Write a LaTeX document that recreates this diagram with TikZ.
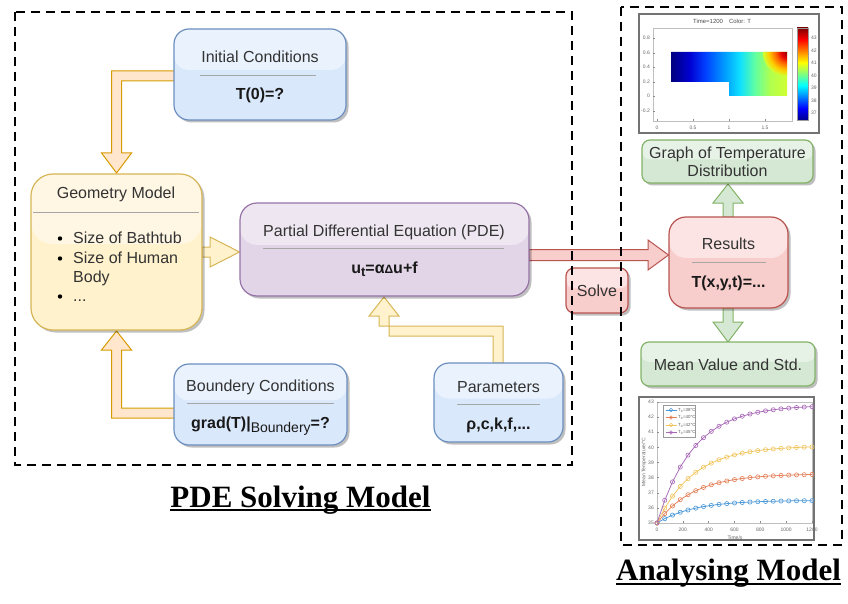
\documentclass[tikz,border=0pt]{standalone}
\usepackage{fontspec}
\setmainfont{Liberation Sans}
\newfontfamily\titlefont{Liberation Serif}
\usetikzlibrary{shadows,calc,plotmarks}
\definecolor{txt}{HTML}{333333}
\definecolor{blueF}{HTML}{DAE8FC}\definecolor{blueL}{HTML}{6C8EBF}
\definecolor{yelF}{HTML}{FFF2CC}\definecolor{yelL}{HTML}{D6B656}
\definecolor{purF}{HTML}{E1D5E7}\definecolor{purL}{HTML}{9673A6}
\definecolor{redF}{HTML}{F8CECC}\definecolor{redL}{HTML}{B85450}
\definecolor{grnF}{HTML}{D5E8D4}\definecolor{grnL}{HTML}{82B366}
\definecolor{orF}{HTML}{FFE6CC}\definecolor{orL}{HTML}{D79B00}
\definecolor{mA}{HTML}{4A98D8}\definecolor{mB}{HTML}{E38058}
\definecolor{mC}{HTML}{F2C55C}\definecolor{mD}{HTML}{A868B8}
\pgfdeclarehorizontalshading{jetx}{100bp}{rgb(0bp)=(0,0,0.5); rgb(25bp)=(0,0,0.5); rgb(33bp)=(0,0,0.82); rgb(39.7bp)=(0,0.25,1); rgb(48.3bp)=(0,0.62,1); rgb(54.7bp)=(0.06,0.88,1); rgb(61.2bp)=(0.38,1,0.63); rgb(67.7bp)=(0.69,1,0.31); rgb(75bp)=(0.82,1,0.19); rgb(100bp)=(0.82,1,0.19)}
\pgfdeclareradialshading{heat}{\pgfpoint{0bp}{0bp}}{rgb(0bp)=(0.55,0,0); rgb(6bp)=(0.9,0,0); rgb(12bp)=(1,0.4,0); rgb(19bp)=(1,0.8,0); rgb(25bp)=(0.82,1,0.19); rgb(50bp)=(0.82,1,0.19)}
\pgfdeclareverticalshading{jety}{100bp}{rgb(0bp)=(0,0,0.55); rgb(25bp)=(0,0,0.55); rgb(31.25bp)=(0,0,1); rgb(43.75bp)=(0,1,1); rgb(56.25bp)=(1,1,0); rgb(68.75bp)=(1,0,0); rgb(75bp)=(0.5,0,0); rgb(100bp)=(0.5,0,0)}
\tikzset{
  box/.style 2 args={fill=#1, draw=#2, line width=1.2pt, inner sep=0pt,
    drop shadow={shadow xshift=2.5pt, shadow yshift=-2.5pt, opacity=0.25, fill=black},
    path picture={\fill[white,opacity=0.45] (path picture bounding box.north west) rectangle ($(path picture bounding box.north east)!0.45!(path picture bounding box.south east)$);}},
  fat/.style 2 args={fill=#1, draw=#2, line width=1pt, line join=miter},
  ttl/.style={font=\fontsize{16}{18}\selectfont, text=txt, inner sep=0pt},
  val/.style={font=\bfseries\fontsize{16}{18}\selectfont, text=black!90, inner sep=0pt},
  sepline/.style={draw=black!35, line width=0.9pt},
  tk/.style={font=\fontsize{5}{6}\selectfont, text=black!60, inner sep=0pt},
  frame/.style={draw=black!55, line width=2.2pt, fill=white, inner sep=0pt},
  dashbox/.style={draw=black, line width=2.2pt, dash pattern=on 9pt off 6pt},
  bigtitle/.style={font=\titlefont\bfseries\fontsize{31}{36}\selectfont, inner sep=0pt}
}
\begin{document}
\begin{tikzpicture}[x=1pt,y=-1pt]
\useasboundingbox (0,0) rectangle (848,604);

% ---------- top plot ----------
\node[frame, minimum width=180pt, minimum height=119pt] (plotA) at (729,73.5) {};
\draw[black!25, line width=0.4pt] (653,28) rectangle (792,121);
\foreach \xv/\lab [count=\i] in {657/0,693/0.5,729/1,765/1.5}{
  \draw[black!45, line width=0.4pt] (\xv,121) -- (\xv,119);
  \node[tk] (ax\i) at (\xv,127.5) {\lab};}
\foreach \yv/\lab [count=\i] in {38/0.8,53/0.6,67/0.4,82/0.2,96/0,111/-0.2}{
  \draw[black!45, line width=0.4pt] (653,\yv) -- (655,\yv);
  \node[tk, anchor=east] (ay\i) at (650,\yv) {\lab};}
\node[font=\fontsize{6}{7}\selectfont, text=black!70, inner sep=0pt] (ttlA) at (722,21) {Time=1200\quad Color: T};
\begin{scope}
  \clip (671,52) -- (787,52) -- (787,96) -- (729,96) -- (729,82) -- (671,82) -- cycle;
  \shade[shading=jetx] (671,52) rectangle (787,96);
  \shade[shading=heat] (787,52) circle (24);
\end{scope}
\shade[shading=jety] (797,28) rectangle (808,120);
\draw[black!40, line width=0.4pt] (797,28) rectangle (808,120);
\foreach \v [count=\i] in {43,42,41,40,39,38,37}{
  \node[tk, anchor=west] (cb\i) at (811,{38+(43-\v)*12.5}) {\v};}

% ---------- bottom plot ----------
\node[frame, minimum width=175pt, minimum height=143pt] (plotB) at (726.5,468.5) {};
\draw[black!25, line width=0.4pt] (657,402) rectangle (812,523);
\foreach \t [count=\i] in {0,200,400,600,800,1000,1200}{
  \draw[black!45, line width=0.4pt] ({657+\t*0.129167},523) -- ({657+\t*0.129167},521);
  \node[tk] (bx\i) at ({657+\t*0.129167},530) {\t};}
\foreach \v [count=\i] in {35,36,37,38,39,40,41,42,43}{
  \draw[black!45, line width=0.4pt] (657,{523-15.125*(\v-35)}) -- (659,{523-15.125*(\v-35)});
  \node[tk, anchor=east] (by\i) at (654,{523-15.125*(\v-35)}) {\v};}
\node[tk] (xlab) at (735,537.5) {Time/s};
\node[tk, rotate=90] (ylab) at (644,462) {Mean Temperature/°C};
\foreach \A/\c in {1.5/mA,3.25/mB,5.1/mC,7.8/mD}{
  \draw[\c, line width=0.75pt, mark=o, mark size=2.1pt, mark options={solid, line width=0.6pt}]
    plot[domain=0:1200, samples=21] ({657+\x*0.129167},{523-15.125*\A*(1-exp(-\x/280))});}
\node[draw=black!40, line width=0.4pt, fill=white, minimum width=32pt, minimum height=32pt, inner sep=0pt] (leg) at (679,421) {};
\foreach \c/\lab [count=\i] in {mA/38,mB/40,mC/42,mD/45}{
  \draw[\c, line width=0.6pt] (665.5,{402.5+7.5*\i}) -- (676.5,{402.5+7.5*\i});
  \draw[\c, line width=0.6pt] (671,{402.5+7.5*\i}) circle (1.8);
  \node[font=\fontsize{4.4}{5}\selectfont, text=black!65, inner sep=0pt, anchor=west] (lg\i) at (678,{402.5+7.5*\i}) {T\textsubscript{0}=\lab°C};}

% ---------- block arrows ----------
\draw[fat={orF}{orL}] (175,71) -- (111.5,71) -- (111.5,153) -- (101.5,153) -- (116.5,173) -- (131.5,153) -- (121.5,153) -- (121.5,81) -- (175,81) -- cycle;
\draw[fat={orF}{orL}] (175,418) -- (111.5,418) -- (111.5,350) -- (101.5,350) -- (116.5,331) -- (131.5,350) -- (121.5,350) -- (121.5,408) -- (175,408) -- cycle;
\draw[fat={yelF}{yelL}] (202,247) -- (210,247) -- (210,237) -- (239.5,252) -- (210,267) -- (210,257) -- (202,257) -- cycle;
\draw[fat={yelF}{yelL}] (493,363) -- (493,336) -- (389,336) -- (389,316) -- (399,316) -- (384,297) -- (369,316) -- (379,316) -- (379,326) -- (503,326) -- (503,363) -- cycle;
\draw[fat={redF}{redL}] (529,249.5) -- (648,249.5) -- (648,240) -- (668.5,255) -- (648,270) -- (648,260.5) -- (529,260.5) -- cycle;
\draw[fat={grnF}{grnL}] (723,217) -- (723,203) -- (713,203) -- (728,184) -- (743,203) -- (733,203) -- (733,217) -- cycle;
\draw[fat={grnF}{grnL}] (723,308) -- (723,322) -- (713,322) -- (728,342) -- (743,322) -- (733,322) -- (733,308) -- cycle;

% ---------- boxes ----------
\node[box={blueF}{blueL}, minimum width=172pt, minimum height=91pt, rounded corners=15pt] (ic) at (260,74.5) {};
\node[ttl, anchor=base] (ict) at (260,63) {Initial Conditions};
\draw[sepline] (200,75) -- (316,75);
\node[val, anchor=base] (icv) at (260,100) {T(0)=?};

\node[box={yelF}{yelL}, minimum width=171pt, minimum height=156pt, rounded corners=22pt] (geo) at (116.5,252) {};
\node[ttl, anchor=base] (geot) at (116,198.5) {Geometry Model};
\draw[sepline] (33,212) -- (199,212);
\node[ttl, anchor=base west] (gl1) at (73,243) {Size of Bathtub};
\node[ttl, anchor=base west] (gl2) at (73,263) {Size of Human};
\node[ttl, anchor=base west] (gl3) at (73,282) {Body};
\node[ttl, anchor=base west] (gl4) at (73,301) {...};
\fill[black] (60,238.5) circle (2.2);
\fill[black] (60,258.5) circle (2.2);
\fill[black] (60,296.5) circle (2.2);

\node[box={purF}{purL}, minimum width=289pt, minimum height=93pt, rounded corners=17pt] (pde) at (384.5,249.5) {};
\node[ttl, anchor=base] (pdet) at (384,236) {Partial Differential Equation (PDE)};
\draw[sepline] (263,248) -- (504,248);
\node[val, anchor=base] (pdev) at (384.5,273) {u\raisebox{-3.5pt}{\fontsize{13}{13}\selectfont t}=α{\fontsize{12}{12}\selectfont Δ}u+f};

\node[box={blueF}{blueL}, minimum width=129pt, minimum height=79pt, rounded corners=15pt] (par) at (498.5,402.5) {};
\node[ttl, anchor=base] (part) at (498.5,392) {Parameters};
\draw[sepline] (457,404) -- (540,404);
\node[val, anchor=base] (parv) at (498.5,429) {ρ,c,k,f,...};

\node[box={blueF}{blueL}, minimum width=173pt, minimum height=81pt, rounded corners=15pt] (bc) at (260.5,404.5) {};
\node[ttl, anchor=base] (bct) at (260.5,391) {Boundery Conditions};
\draw[sepline] (187,403) -- (334,403);
\node[val, anchor=base] (bcv) at (260.5,428.5) {grad(T)|\raisebox{-4pt}{\mdseries\fontsize{14}{14}\selectfont Boundery}=?};

\node[box={redF}{redL}, minimum width=62pt, minimum height=45pt, rounded corners=8pt] (solve) at (597,290.5) {};
\node[ttl, anchor=base] (solvet) at (597,296) {Solve};

\node[box={redF}{redL}, minimum width=119pt, minimum height=91pt, rounded corners=17pt] (res) at (728.5,262.5) {};
\node[ttl, anchor=base] (rest) at (728.5,249) {Results};
\draw[sepline] (692,262) -- (766,262);
\node[val, anchor=base] (resv) at (728.5,287) {T(x,y,t)=...};

\node[box={grnF}{grnL}, minimum width=171pt, minimum height=43pt, rounded corners=8pt] (graph) at (727.5,161.5) {};
\node[ttl, anchor=base] (grapht1) at (727.5,158.5) {Graph of Temperature};
\node[ttl, anchor=base] (grapht2) at (727.5,177) {Distribution};

\node[box={grnF}{grnL}, minimum width=174pt, minimum height=44pt, rounded corners=8pt] (mean) at (728,364) {};
\node[ttl, anchor=base] (meant) at (728,370) {Mean Value and Std.};

% ---------- dashed frames ----------
\draw[dashbox] (15,12) rectangle (572,465);
\draw[dashbox] (621,7) rectangle (842,545);

% ---------- titles ----------
\node[bigtitle, anchor=base] (t1) at (300.5,507) {PDE Solving Model};
\draw[line width=2pt] ([yshift=-3pt]t1.base west) -- ([yshift=-3pt]t1.base east);
\node[bigtitle, anchor=base] (t2) at (728.5,580) {Analysing Model};
\draw[line width=2pt] ([yshift=-4pt]t2.base west) -- ([yshift=-4pt]t2.base east);
\end{tikzpicture}
\end{document}
